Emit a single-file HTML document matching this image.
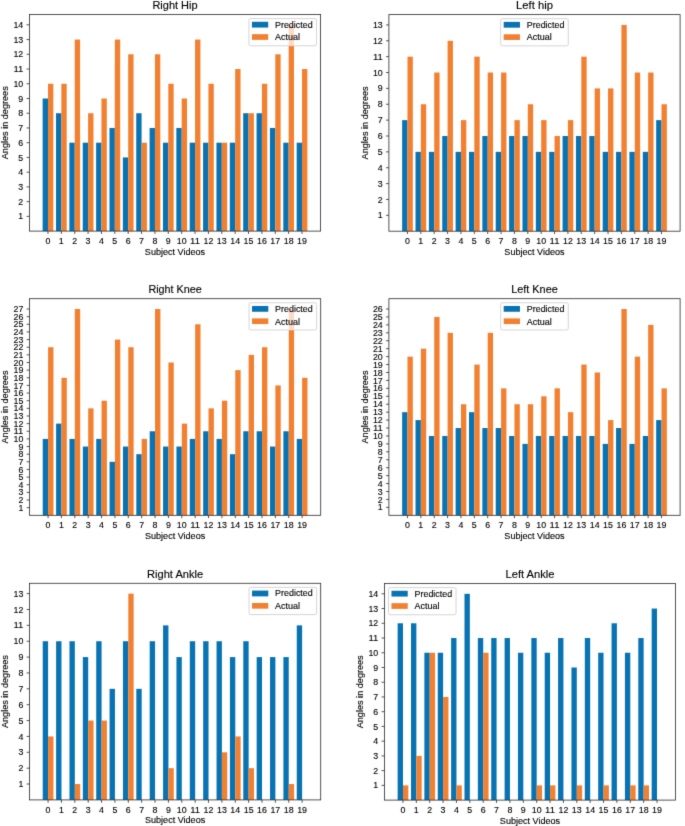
<!DOCTYPE html>
<html><head><meta charset="utf-8"><style>
html,body{margin:0;padding:0;background:#fff;width:685px;height:826px;overflow:hidden}
svg{display:block;}
text{font-family:"Liberation Sans",sans-serif;fill:#000;stroke:#000;stroke-width:0.12px}
</style></head><body>
<svg width="685" height="826" viewBox="0 0 685 826">
<defs><filter id="bl" x="0" y="0" width="1" height="1" color-interpolation-filters="sRGB"><feConvolveMatrix order="3" kernelMatrix="0.01134 0.08382 0.01134 0.08382 0.61935 0.08382 0.01134 0.08382 0.01134" edgeMode="duplicate" preserveAlpha="true"/></filter></defs><g filter="url(#bl)"><rect width="685" height="826" fill="#fff"/>
<rect x="42.64" y="98.49" width="5.35" height="132.61" fill="#0873b2"/>
<rect x="47.98" y="83.75" width="5.35" height="147.35" fill="#f28031"/>
<rect x="56.01" y="113.22" width="5.35" height="117.88" fill="#0873b2"/>
<rect x="61.35" y="83.75" width="5.35" height="147.35" fill="#f28031"/>
<rect x="69.38" y="142.69" width="5.35" height="88.41" fill="#0873b2"/>
<rect x="74.72" y="39.55" width="5.35" height="191.55" fill="#f28031"/>
<rect x="82.75" y="142.69" width="5.35" height="88.41" fill="#0873b2"/>
<rect x="88.09" y="113.22" width="5.35" height="117.88" fill="#f28031"/>
<rect x="96.12" y="142.69" width="5.35" height="88.41" fill="#0873b2"/>
<rect x="101.46" y="98.49" width="5.35" height="132.61" fill="#f28031"/>
<rect x="109.49" y="127.96" width="5.35" height="103.14" fill="#0873b2"/>
<rect x="114.83" y="39.55" width="5.35" height="191.55" fill="#f28031"/>
<rect x="122.86" y="157.43" width="5.35" height="73.67" fill="#0873b2"/>
<rect x="128.2" y="54.28" width="5.35" height="176.82" fill="#f28031"/>
<rect x="136.23" y="113.22" width="5.35" height="117.88" fill="#0873b2"/>
<rect x="141.57" y="142.69" width="5.35" height="88.41" fill="#f28031"/>
<rect x="149.6" y="127.96" width="5.35" height="103.14" fill="#0873b2"/>
<rect x="154.94" y="54.28" width="5.35" height="176.82" fill="#f28031"/>
<rect x="162.97" y="142.69" width="5.35" height="88.41" fill="#0873b2"/>
<rect x="168.31" y="83.75" width="5.35" height="147.35" fill="#f28031"/>
<rect x="176.34" y="127.96" width="5.35" height="103.14" fill="#0873b2"/>
<rect x="181.69" y="98.49" width="5.35" height="132.61" fill="#f28031"/>
<rect x="189.71" y="142.69" width="5.35" height="88.41" fill="#0873b2"/>
<rect x="195.06" y="39.55" width="5.35" height="191.55" fill="#f28031"/>
<rect x="203.08" y="142.69" width="5.35" height="88.41" fill="#0873b2"/>
<rect x="208.43" y="83.75" width="5.35" height="147.35" fill="#f28031"/>
<rect x="216.45" y="142.69" width="5.35" height="88.41" fill="#0873b2"/>
<rect x="221.8" y="142.69" width="5.35" height="88.41" fill="#f28031"/>
<rect x="229.82" y="142.69" width="5.35" height="88.41" fill="#0873b2"/>
<rect x="235.17" y="69.02" width="5.35" height="162.08" fill="#f28031"/>
<rect x="243.19" y="113.22" width="5.35" height="117.88" fill="#0873b2"/>
<rect x="248.54" y="113.22" width="5.35" height="117.88" fill="#f28031"/>
<rect x="256.56" y="113.22" width="5.35" height="117.88" fill="#0873b2"/>
<rect x="261.91" y="83.75" width="5.35" height="147.35" fill="#f28031"/>
<rect x="269.93" y="127.96" width="5.35" height="103.14" fill="#0873b2"/>
<rect x="275.28" y="54.28" width="5.35" height="176.82" fill="#f28031"/>
<rect x="283.3" y="142.69" width="5.35" height="88.41" fill="#0873b2"/>
<rect x="288.65" y="24.81" width="5.35" height="206.29" fill="#f28031"/>
<rect x="296.67" y="142.69" width="5.35" height="88.41" fill="#0873b2"/>
<rect x="302.02" y="69.02" width="5.35" height="162.08" fill="#f28031"/>
<path d="M47.98 231.1v2.85M61.35 231.1v2.85M74.72 231.1v2.85M88.09 231.1v2.85M101.46 231.1v2.85M114.83 231.1v2.85M128.2 231.1v2.85M141.57 231.1v2.85M154.94 231.1v2.85M168.31 231.1v2.85M181.69 231.1v2.85M195.06 231.1v2.85M208.43 231.1v2.85M221.8 231.1v2.85M235.17 231.1v2.85M248.54 231.1v2.85M261.91 231.1v2.85M275.28 231.1v2.85M288.65 231.1v2.85M302.02 231.1v2.85M29.4 216.37h-2.85M29.4 201.63h-2.85M29.4 186.9h-2.85M29.4 172.16h-2.85M29.4 157.43h-2.85M29.4 142.69h-2.85M29.4 127.96h-2.85M29.4 113.22h-2.85M29.4 98.49h-2.85M29.4 83.75h-2.85M29.4 69.02h-2.85M29.4 54.28h-2.85M29.4 39.55h-2.85M29.4 24.81h-2.85" stroke="#2a2a2a" stroke-width="0.8" fill="none"/>
<rect x="29.4" y="14.5" width="291.2" height="216.6" fill="none" stroke="#2a2a2a" stroke-width="0.8"/>
<text x="47.98" y="243.7" font-size="8.38" text-anchor="middle" textLength="4.92" lengthAdjust="spacingAndGlyphs">0</text>
<text x="61.35" y="243.7" font-size="8.38" text-anchor="middle" textLength="4.92" lengthAdjust="spacingAndGlyphs">1</text>
<text x="74.72" y="243.7" font-size="8.38" text-anchor="middle" textLength="4.92" lengthAdjust="spacingAndGlyphs">2</text>
<text x="88.09" y="243.7" font-size="8.38" text-anchor="middle" textLength="4.92" lengthAdjust="spacingAndGlyphs">3</text>
<text x="101.46" y="243.7" font-size="8.38" text-anchor="middle" textLength="4.92" lengthAdjust="spacingAndGlyphs">4</text>
<text x="114.83" y="243.7" font-size="8.38" text-anchor="middle" textLength="4.92" lengthAdjust="spacingAndGlyphs">5</text>
<text x="128.2" y="243.7" font-size="8.38" text-anchor="middle" textLength="4.92" lengthAdjust="spacingAndGlyphs">6</text>
<text x="141.57" y="243.7" font-size="8.38" text-anchor="middle" textLength="4.92" lengthAdjust="spacingAndGlyphs">7</text>
<text x="154.94" y="243.7" font-size="8.38" text-anchor="middle" textLength="4.92" lengthAdjust="spacingAndGlyphs">8</text>
<text x="168.31" y="243.7" font-size="8.38" text-anchor="middle" textLength="4.92" lengthAdjust="spacingAndGlyphs">9</text>
<text x="181.69" y="243.7" font-size="8.38" text-anchor="middle" textLength="9.84" lengthAdjust="spacingAndGlyphs">10</text>
<text x="195.06" y="243.7" font-size="8.38" text-anchor="middle" textLength="9.84" lengthAdjust="spacingAndGlyphs">11</text>
<text x="208.43" y="243.7" font-size="8.38" text-anchor="middle" textLength="9.84" lengthAdjust="spacingAndGlyphs">12</text>
<text x="221.8" y="243.7" font-size="8.38" text-anchor="middle" textLength="9.84" lengthAdjust="spacingAndGlyphs">13</text>
<text x="235.17" y="243.7" font-size="8.38" text-anchor="middle" textLength="9.84" lengthAdjust="spacingAndGlyphs">14</text>
<text x="248.54" y="243.7" font-size="8.38" text-anchor="middle" textLength="9.84" lengthAdjust="spacingAndGlyphs">15</text>
<text x="261.91" y="243.7" font-size="8.38" text-anchor="middle" textLength="9.84" lengthAdjust="spacingAndGlyphs">16</text>
<text x="275.28" y="243.7" font-size="8.38" text-anchor="middle" textLength="9.84" lengthAdjust="spacingAndGlyphs">17</text>
<text x="288.65" y="243.7" font-size="8.38" text-anchor="middle" textLength="9.84" lengthAdjust="spacingAndGlyphs">18</text>
<text x="302.02" y="243.7" font-size="8.38" text-anchor="middle" textLength="9.84" lengthAdjust="spacingAndGlyphs">19</text>
<text x="23.3" y="219.46" font-size="8.38" text-anchor="end" textLength="4.92" lengthAdjust="spacingAndGlyphs">1</text>
<text x="23.3" y="204.72" font-size="8.38" text-anchor="end" textLength="4.92" lengthAdjust="spacingAndGlyphs">2</text>
<text x="23.3" y="189.99" font-size="8.38" text-anchor="end" textLength="4.92" lengthAdjust="spacingAndGlyphs">3</text>
<text x="23.3" y="175.25" font-size="8.38" text-anchor="end" textLength="4.92" lengthAdjust="spacingAndGlyphs">4</text>
<text x="23.3" y="160.52" font-size="8.38" text-anchor="end" textLength="4.92" lengthAdjust="spacingAndGlyphs">5</text>
<text x="23.3" y="145.78" font-size="8.38" text-anchor="end" textLength="4.92" lengthAdjust="spacingAndGlyphs">6</text>
<text x="23.3" y="131.05" font-size="8.38" text-anchor="end" textLength="4.92" lengthAdjust="spacingAndGlyphs">7</text>
<text x="23.3" y="116.31" font-size="8.38" text-anchor="end" textLength="4.92" lengthAdjust="spacingAndGlyphs">8</text>
<text x="23.3" y="101.58" font-size="8.38" text-anchor="end" textLength="4.92" lengthAdjust="spacingAndGlyphs">9</text>
<text x="23.3" y="86.84" font-size="8.38" text-anchor="end" textLength="9.84" lengthAdjust="spacingAndGlyphs">10</text>
<text x="23.3" y="72.11" font-size="8.38" text-anchor="end" textLength="9.84" lengthAdjust="spacingAndGlyphs">11</text>
<text x="23.3" y="57.37" font-size="8.38" text-anchor="end" textLength="9.84" lengthAdjust="spacingAndGlyphs">12</text>
<text x="23.3" y="42.64" font-size="8.38" text-anchor="end" textLength="9.84" lengthAdjust="spacingAndGlyphs">13</text>
<text x="23.3" y="27.9" font-size="8.38" text-anchor="end" textLength="9.84" lengthAdjust="spacingAndGlyphs">14</text>
<text x="175" y="8.9" font-size="10.06" text-anchor="middle" textLength="45.1" lengthAdjust="spacingAndGlyphs">Right Hip</text>
<text x="175" y="254.6" font-size="8.38" text-anchor="middle" textLength="60.24" lengthAdjust="spacingAndGlyphs">Subject Videos</text>
<text x="8.1" y="122.8" font-size="8.38" text-anchor="middle" textLength="72.95" lengthAdjust="spacingAndGlyphs" transform="rotate(-90 8.1 122.8)">Angles in degrees</text>
<rect x="248.93" y="18.57" width="67.6" height="27.2" rx="1.6" fill="#fff" stroke="#ccc" stroke-width="0.8"/>
<rect x="288.65" y="24.81" width="5.35" height="20.56" fill="#fbdbc5"/>
<rect x="251.93" y="21.77" width="16.28" height="5.8" fill="#0873b2"/>
<rect x="251.93" y="34.17" width="16.28" height="5.7" fill="#f28031"/>
<text x="275.03" y="27.67" font-size="8.38" text-anchor="start" textLength="37.57" lengthAdjust="spacingAndGlyphs">Predicted</text>
<text x="275.03" y="40.37" font-size="8.38" text-anchor="start" textLength="25" lengthAdjust="spacingAndGlyphs">Actual</text>
<rect x="402.14" y="120.12" width="5.35" height="111.08" fill="#0873b2"/>
<rect x="407.48" y="56.65" width="5.35" height="174.55" fill="#f28031"/>
<rect x="415.51" y="151.86" width="5.35" height="79.34" fill="#0873b2"/>
<rect x="420.85" y="104.25" width="5.35" height="126.95" fill="#f28031"/>
<rect x="428.88" y="151.86" width="5.35" height="79.34" fill="#0873b2"/>
<rect x="434.22" y="72.52" width="5.35" height="158.68" fill="#f28031"/>
<rect x="442.25" y="135.99" width="5.35" height="95.21" fill="#0873b2"/>
<rect x="447.59" y="40.78" width="5.35" height="190.42" fill="#f28031"/>
<rect x="455.62" y="151.86" width="5.35" height="79.34" fill="#0873b2"/>
<rect x="460.96" y="120.12" width="5.35" height="111.08" fill="#f28031"/>
<rect x="468.99" y="151.86" width="5.35" height="79.34" fill="#0873b2"/>
<rect x="474.33" y="56.65" width="5.35" height="174.55" fill="#f28031"/>
<rect x="482.36" y="135.99" width="5.35" height="95.21" fill="#0873b2"/>
<rect x="487.7" y="72.52" width="5.35" height="158.68" fill="#f28031"/>
<rect x="495.73" y="151.86" width="5.35" height="79.34" fill="#0873b2"/>
<rect x="501.07" y="72.52" width="5.35" height="158.68" fill="#f28031"/>
<rect x="509.1" y="135.99" width="5.35" height="95.21" fill="#0873b2"/>
<rect x="514.44" y="120.12" width="5.35" height="111.08" fill="#f28031"/>
<rect x="522.47" y="135.99" width="5.35" height="95.21" fill="#0873b2"/>
<rect x="527.81" y="104.25" width="5.35" height="126.95" fill="#f28031"/>
<rect x="535.84" y="151.86" width="5.35" height="79.34" fill="#0873b2"/>
<rect x="541.19" y="120.12" width="5.35" height="111.08" fill="#f28031"/>
<rect x="549.21" y="151.86" width="5.35" height="79.34" fill="#0873b2"/>
<rect x="554.56" y="135.99" width="5.35" height="95.21" fill="#f28031"/>
<rect x="562.58" y="135.99" width="5.35" height="95.21" fill="#0873b2"/>
<rect x="567.93" y="120.12" width="5.35" height="111.08" fill="#f28031"/>
<rect x="575.95" y="135.99" width="5.35" height="95.21" fill="#0873b2"/>
<rect x="581.3" y="56.65" width="5.35" height="174.55" fill="#f28031"/>
<rect x="589.32" y="135.99" width="5.35" height="95.21" fill="#0873b2"/>
<rect x="594.67" y="88.39" width="5.35" height="142.81" fill="#f28031"/>
<rect x="602.69" y="151.86" width="5.35" height="79.34" fill="#0873b2"/>
<rect x="608.04" y="88.39" width="5.35" height="142.81" fill="#f28031"/>
<rect x="616.06" y="151.86" width="5.35" height="79.34" fill="#0873b2"/>
<rect x="621.41" y="24.91" width="5.35" height="206.29" fill="#f28031"/>
<rect x="629.43" y="151.86" width="5.35" height="79.34" fill="#0873b2"/>
<rect x="634.78" y="72.52" width="5.35" height="158.68" fill="#f28031"/>
<rect x="642.8" y="151.86" width="5.35" height="79.34" fill="#0873b2"/>
<rect x="648.15" y="72.52" width="5.35" height="158.68" fill="#f28031"/>
<rect x="656.17" y="120.12" width="5.35" height="111.08" fill="#0873b2"/>
<rect x="661.52" y="104.25" width="5.35" height="126.95" fill="#f28031"/>
<path d="M407.48 231.2v2.85M420.85 231.2v2.85M434.22 231.2v2.85M447.59 231.2v2.85M460.96 231.2v2.85M474.33 231.2v2.85M487.7 231.2v2.85M501.07 231.2v2.85M514.44 231.2v2.85M527.81 231.2v2.85M541.19 231.2v2.85M554.56 231.2v2.85M567.93 231.2v2.85M581.3 231.2v2.85M594.67 231.2v2.85M608.04 231.2v2.85M621.41 231.2v2.85M634.78 231.2v2.85M648.15 231.2v2.85M661.52 231.2v2.85M388.9 215.33h-2.85M388.9 199.46h-2.85M388.9 183.6h-2.85M388.9 167.73h-2.85M388.9 151.86h-2.85M388.9 135.99h-2.85M388.9 120.12h-2.85M388.9 104.25h-2.85M388.9 88.39h-2.85M388.9 72.52h-2.85M388.9 56.65h-2.85M388.9 40.78h-2.85M388.9 24.91h-2.85" stroke="#2a2a2a" stroke-width="0.8" fill="none"/>
<rect x="388.9" y="14.6" width="291.2" height="216.6" fill="none" stroke="#2a2a2a" stroke-width="0.8"/>
<text x="407.48" y="243.8" font-size="8.38" text-anchor="middle" textLength="4.92" lengthAdjust="spacingAndGlyphs">0</text>
<text x="420.85" y="243.8" font-size="8.38" text-anchor="middle" textLength="4.92" lengthAdjust="spacingAndGlyphs">1</text>
<text x="434.22" y="243.8" font-size="8.38" text-anchor="middle" textLength="4.92" lengthAdjust="spacingAndGlyphs">2</text>
<text x="447.59" y="243.8" font-size="8.38" text-anchor="middle" textLength="4.92" lengthAdjust="spacingAndGlyphs">3</text>
<text x="460.96" y="243.8" font-size="8.38" text-anchor="middle" textLength="4.92" lengthAdjust="spacingAndGlyphs">4</text>
<text x="474.33" y="243.8" font-size="8.38" text-anchor="middle" textLength="4.92" lengthAdjust="spacingAndGlyphs">5</text>
<text x="487.7" y="243.8" font-size="8.38" text-anchor="middle" textLength="4.92" lengthAdjust="spacingAndGlyphs">6</text>
<text x="501.07" y="243.8" font-size="8.38" text-anchor="middle" textLength="4.92" lengthAdjust="spacingAndGlyphs">7</text>
<text x="514.44" y="243.8" font-size="8.38" text-anchor="middle" textLength="4.92" lengthAdjust="spacingAndGlyphs">8</text>
<text x="527.81" y="243.8" font-size="8.38" text-anchor="middle" textLength="4.92" lengthAdjust="spacingAndGlyphs">9</text>
<text x="541.19" y="243.8" font-size="8.38" text-anchor="middle" textLength="9.84" lengthAdjust="spacingAndGlyphs">10</text>
<text x="554.56" y="243.8" font-size="8.38" text-anchor="middle" textLength="9.84" lengthAdjust="spacingAndGlyphs">11</text>
<text x="567.93" y="243.8" font-size="8.38" text-anchor="middle" textLength="9.84" lengthAdjust="spacingAndGlyphs">12</text>
<text x="581.3" y="243.8" font-size="8.38" text-anchor="middle" textLength="9.84" lengthAdjust="spacingAndGlyphs">13</text>
<text x="594.67" y="243.8" font-size="8.38" text-anchor="middle" textLength="9.84" lengthAdjust="spacingAndGlyphs">14</text>
<text x="608.04" y="243.8" font-size="8.38" text-anchor="middle" textLength="9.84" lengthAdjust="spacingAndGlyphs">15</text>
<text x="621.41" y="243.8" font-size="8.38" text-anchor="middle" textLength="9.84" lengthAdjust="spacingAndGlyphs">16</text>
<text x="634.78" y="243.8" font-size="8.38" text-anchor="middle" textLength="9.84" lengthAdjust="spacingAndGlyphs">17</text>
<text x="648.15" y="243.8" font-size="8.38" text-anchor="middle" textLength="9.84" lengthAdjust="spacingAndGlyphs">18</text>
<text x="661.52" y="243.8" font-size="8.38" text-anchor="middle" textLength="9.84" lengthAdjust="spacingAndGlyphs">19</text>
<text x="382.8" y="218.42" font-size="8.38" text-anchor="end" textLength="4.92" lengthAdjust="spacingAndGlyphs">1</text>
<text x="382.8" y="202.55" font-size="8.38" text-anchor="end" textLength="4.92" lengthAdjust="spacingAndGlyphs">2</text>
<text x="382.8" y="186.69" font-size="8.38" text-anchor="end" textLength="4.92" lengthAdjust="spacingAndGlyphs">3</text>
<text x="382.8" y="170.82" font-size="8.38" text-anchor="end" textLength="4.92" lengthAdjust="spacingAndGlyphs">4</text>
<text x="382.8" y="154.95" font-size="8.38" text-anchor="end" textLength="4.92" lengthAdjust="spacingAndGlyphs">5</text>
<text x="382.8" y="139.08" font-size="8.38" text-anchor="end" textLength="4.92" lengthAdjust="spacingAndGlyphs">6</text>
<text x="382.8" y="123.21" font-size="8.38" text-anchor="end" textLength="4.92" lengthAdjust="spacingAndGlyphs">7</text>
<text x="382.8" y="107.34" font-size="8.38" text-anchor="end" textLength="4.92" lengthAdjust="spacingAndGlyphs">8</text>
<text x="382.8" y="91.48" font-size="8.38" text-anchor="end" textLength="4.92" lengthAdjust="spacingAndGlyphs">9</text>
<text x="382.8" y="75.61" font-size="8.38" text-anchor="end" textLength="9.84" lengthAdjust="spacingAndGlyphs">10</text>
<text x="382.8" y="59.74" font-size="8.38" text-anchor="end" textLength="9.84" lengthAdjust="spacingAndGlyphs">11</text>
<text x="382.8" y="43.87" font-size="8.38" text-anchor="end" textLength="9.84" lengthAdjust="spacingAndGlyphs">12</text>
<text x="382.8" y="28" font-size="8.38" text-anchor="end" textLength="9.84" lengthAdjust="spacingAndGlyphs">13</text>
<text x="534.5" y="9" font-size="10.06" text-anchor="middle" textLength="36.94" lengthAdjust="spacingAndGlyphs">Left hip</text>
<text x="534.5" y="254.7" font-size="8.38" text-anchor="middle" textLength="60.24" lengthAdjust="spacingAndGlyphs">Subject Videos</text>
<text x="367.6" y="122.9" font-size="8.38" text-anchor="middle" textLength="72.95" lengthAdjust="spacingAndGlyphs" transform="rotate(-90 367.6 122.9)">Angles in degrees</text>
<rect x="500.7" y="18.67" width="67.6" height="27.2" rx="1.6" fill="#fff" stroke="#ccc" stroke-width="0.8"/>
<rect x="503.7" y="21.87" width="16.28" height="5.8" fill="#0873b2"/>
<rect x="503.7" y="34.27" width="16.28" height="5.7" fill="#f28031"/>
<text x="526.8" y="27.77" font-size="8.38" text-anchor="start" textLength="37.57" lengthAdjust="spacingAndGlyphs">Predicted</text>
<text x="526.8" y="40.47" font-size="8.38" text-anchor="start" textLength="25" lengthAdjust="spacingAndGlyphs">Actual</text>
<rect x="42.74" y="438.9" width="5.35" height="76.4" fill="#0873b2"/>
<rect x="48.08" y="347.22" width="5.35" height="168.08" fill="#f28031"/>
<rect x="56.11" y="423.62" width="5.35" height="91.68" fill="#0873b2"/>
<rect x="61.45" y="377.78" width="5.35" height="137.52" fill="#f28031"/>
<rect x="69.48" y="438.9" width="5.35" height="76.4" fill="#0873b2"/>
<rect x="74.82" y="309.01" width="5.35" height="206.29" fill="#f28031"/>
<rect x="82.85" y="446.54" width="5.35" height="68.76" fill="#0873b2"/>
<rect x="88.19" y="408.34" width="5.35" height="106.96" fill="#f28031"/>
<rect x="96.22" y="438.9" width="5.35" height="76.4" fill="#0873b2"/>
<rect x="101.56" y="400.7" width="5.35" height="114.6" fill="#f28031"/>
<rect x="109.59" y="461.82" width="5.35" height="53.48" fill="#0873b2"/>
<rect x="114.93" y="339.58" width="5.35" height="175.72" fill="#f28031"/>
<rect x="122.96" y="446.54" width="5.35" height="68.76" fill="#0873b2"/>
<rect x="128.3" y="347.22" width="5.35" height="168.08" fill="#f28031"/>
<rect x="136.33" y="454.18" width="5.35" height="61.12" fill="#0873b2"/>
<rect x="141.67" y="438.9" width="5.35" height="76.4" fill="#f28031"/>
<rect x="149.7" y="431.26" width="5.35" height="84.04" fill="#0873b2"/>
<rect x="155.04" y="309.01" width="5.35" height="206.29" fill="#f28031"/>
<rect x="163.07" y="446.54" width="5.35" height="68.76" fill="#0873b2"/>
<rect x="168.41" y="362.5" width="5.35" height="152.8" fill="#f28031"/>
<rect x="176.44" y="446.54" width="5.35" height="68.76" fill="#0873b2"/>
<rect x="181.79" y="423.62" width="5.35" height="91.68" fill="#f28031"/>
<rect x="189.81" y="438.9" width="5.35" height="76.4" fill="#0873b2"/>
<rect x="195.16" y="324.29" width="5.35" height="191.01" fill="#f28031"/>
<rect x="203.18" y="431.26" width="5.35" height="84.04" fill="#0873b2"/>
<rect x="208.53" y="408.34" width="5.35" height="106.96" fill="#f28031"/>
<rect x="216.55" y="438.9" width="5.35" height="76.4" fill="#0873b2"/>
<rect x="221.9" y="400.7" width="5.35" height="114.6" fill="#f28031"/>
<rect x="229.92" y="454.18" width="5.35" height="61.12" fill="#0873b2"/>
<rect x="235.27" y="370.14" width="5.35" height="145.16" fill="#f28031"/>
<rect x="243.29" y="431.26" width="5.35" height="84.04" fill="#0873b2"/>
<rect x="248.64" y="354.86" width="5.35" height="160.44" fill="#f28031"/>
<rect x="256.66" y="431.26" width="5.35" height="84.04" fill="#0873b2"/>
<rect x="262.01" y="347.22" width="5.35" height="168.08" fill="#f28031"/>
<rect x="270.03" y="446.54" width="5.35" height="68.76" fill="#0873b2"/>
<rect x="275.38" y="385.42" width="5.35" height="129.88" fill="#f28031"/>
<rect x="283.4" y="431.26" width="5.35" height="84.04" fill="#0873b2"/>
<rect x="288.75" y="309.01" width="5.35" height="206.29" fill="#f28031"/>
<rect x="296.77" y="438.9" width="5.35" height="76.4" fill="#0873b2"/>
<rect x="302.12" y="377.78" width="5.35" height="137.52" fill="#f28031"/>
<path d="M48.08 515.3v2.85M61.45 515.3v2.85M74.82 515.3v2.85M88.19 515.3v2.85M101.56 515.3v2.85M114.93 515.3v2.85M128.3 515.3v2.85M141.67 515.3v2.85M155.04 515.3v2.85M168.41 515.3v2.85M181.79 515.3v2.85M195.16 515.3v2.85M208.53 515.3v2.85M221.9 515.3v2.85M235.27 515.3v2.85M248.64 515.3v2.85M262.01 515.3v2.85M275.38 515.3v2.85M288.75 515.3v2.85M302.12 515.3v2.85M29.5 507.66h-2.85M29.5 500.02h-2.85M29.5 492.38h-2.85M29.5 484.74h-2.85M29.5 477.1h-2.85M29.5 469.46h-2.85M29.5 461.82h-2.85M29.5 454.18h-2.85M29.5 446.54h-2.85M29.5 438.9h-2.85M29.5 431.26h-2.85M29.5 423.62h-2.85M29.5 415.98h-2.85M29.5 408.34h-2.85M29.5 400.7h-2.85M29.5 393.06h-2.85M29.5 385.42h-2.85M29.5 377.78h-2.85M29.5 370.14h-2.85M29.5 362.5h-2.85M29.5 354.86h-2.85M29.5 347.22h-2.85M29.5 339.58h-2.85M29.5 331.93h-2.85M29.5 324.29h-2.85M29.5 316.65h-2.85M29.5 309.01h-2.85" stroke="#2a2a2a" stroke-width="0.8" fill="none"/>
<rect x="29.5" y="298.7" width="291.2" height="216.6" fill="none" stroke="#2a2a2a" stroke-width="0.8"/>
<text x="48.08" y="527.9" font-size="8.38" text-anchor="middle" textLength="4.92" lengthAdjust="spacingAndGlyphs">0</text>
<text x="61.45" y="527.9" font-size="8.38" text-anchor="middle" textLength="4.92" lengthAdjust="spacingAndGlyphs">1</text>
<text x="74.82" y="527.9" font-size="8.38" text-anchor="middle" textLength="4.92" lengthAdjust="spacingAndGlyphs">2</text>
<text x="88.19" y="527.9" font-size="8.38" text-anchor="middle" textLength="4.92" lengthAdjust="spacingAndGlyphs">3</text>
<text x="101.56" y="527.9" font-size="8.38" text-anchor="middle" textLength="4.92" lengthAdjust="spacingAndGlyphs">4</text>
<text x="114.93" y="527.9" font-size="8.38" text-anchor="middle" textLength="4.92" lengthAdjust="spacingAndGlyphs">5</text>
<text x="128.3" y="527.9" font-size="8.38" text-anchor="middle" textLength="4.92" lengthAdjust="spacingAndGlyphs">6</text>
<text x="141.67" y="527.9" font-size="8.38" text-anchor="middle" textLength="4.92" lengthAdjust="spacingAndGlyphs">7</text>
<text x="155.04" y="527.9" font-size="8.38" text-anchor="middle" textLength="4.92" lengthAdjust="spacingAndGlyphs">8</text>
<text x="168.41" y="527.9" font-size="8.38" text-anchor="middle" textLength="4.92" lengthAdjust="spacingAndGlyphs">9</text>
<text x="181.79" y="527.9" font-size="8.38" text-anchor="middle" textLength="9.84" lengthAdjust="spacingAndGlyphs">10</text>
<text x="195.16" y="527.9" font-size="8.38" text-anchor="middle" textLength="9.84" lengthAdjust="spacingAndGlyphs">11</text>
<text x="208.53" y="527.9" font-size="8.38" text-anchor="middle" textLength="9.84" lengthAdjust="spacingAndGlyphs">12</text>
<text x="221.9" y="527.9" font-size="8.38" text-anchor="middle" textLength="9.84" lengthAdjust="spacingAndGlyphs">13</text>
<text x="235.27" y="527.9" font-size="8.38" text-anchor="middle" textLength="9.84" lengthAdjust="spacingAndGlyphs">14</text>
<text x="248.64" y="527.9" font-size="8.38" text-anchor="middle" textLength="9.84" lengthAdjust="spacingAndGlyphs">15</text>
<text x="262.01" y="527.9" font-size="8.38" text-anchor="middle" textLength="9.84" lengthAdjust="spacingAndGlyphs">16</text>
<text x="275.38" y="527.9" font-size="8.38" text-anchor="middle" textLength="9.84" lengthAdjust="spacingAndGlyphs">17</text>
<text x="288.75" y="527.9" font-size="8.38" text-anchor="middle" textLength="9.84" lengthAdjust="spacingAndGlyphs">18</text>
<text x="302.12" y="527.9" font-size="8.38" text-anchor="middle" textLength="9.84" lengthAdjust="spacingAndGlyphs">19</text>
<text x="23.4" y="510.75" font-size="8.38" text-anchor="end" textLength="4.92" lengthAdjust="spacingAndGlyphs">1</text>
<text x="23.4" y="503.11" font-size="8.38" text-anchor="end" textLength="4.92" lengthAdjust="spacingAndGlyphs">2</text>
<text x="23.4" y="495.47" font-size="8.38" text-anchor="end" textLength="4.92" lengthAdjust="spacingAndGlyphs">3</text>
<text x="23.4" y="487.83" font-size="8.38" text-anchor="end" textLength="4.92" lengthAdjust="spacingAndGlyphs">4</text>
<text x="23.4" y="480.19" font-size="8.38" text-anchor="end" textLength="4.92" lengthAdjust="spacingAndGlyphs">5</text>
<text x="23.4" y="472.55" font-size="8.38" text-anchor="end" textLength="4.92" lengthAdjust="spacingAndGlyphs">6</text>
<text x="23.4" y="464.91" font-size="8.38" text-anchor="end" textLength="4.92" lengthAdjust="spacingAndGlyphs">7</text>
<text x="23.4" y="457.27" font-size="8.38" text-anchor="end" textLength="4.92" lengthAdjust="spacingAndGlyphs">8</text>
<text x="23.4" y="449.63" font-size="8.38" text-anchor="end" textLength="4.92" lengthAdjust="spacingAndGlyphs">9</text>
<text x="23.4" y="441.99" font-size="8.38" text-anchor="end" textLength="9.84" lengthAdjust="spacingAndGlyphs">10</text>
<text x="23.4" y="434.35" font-size="8.38" text-anchor="end" textLength="9.84" lengthAdjust="spacingAndGlyphs">11</text>
<text x="23.4" y="426.71" font-size="8.38" text-anchor="end" textLength="9.84" lengthAdjust="spacingAndGlyphs">12</text>
<text x="23.4" y="419.07" font-size="8.38" text-anchor="end" textLength="9.84" lengthAdjust="spacingAndGlyphs">13</text>
<text x="23.4" y="411.43" font-size="8.38" text-anchor="end" textLength="9.84" lengthAdjust="spacingAndGlyphs">14</text>
<text x="23.4" y="403.79" font-size="8.38" text-anchor="end" textLength="9.84" lengthAdjust="spacingAndGlyphs">15</text>
<text x="23.4" y="396.15" font-size="8.38" text-anchor="end" textLength="9.84" lengthAdjust="spacingAndGlyphs">16</text>
<text x="23.4" y="388.51" font-size="8.38" text-anchor="end" textLength="9.84" lengthAdjust="spacingAndGlyphs">17</text>
<text x="23.4" y="380.87" font-size="8.38" text-anchor="end" textLength="9.84" lengthAdjust="spacingAndGlyphs">18</text>
<text x="23.4" y="373.23" font-size="8.38" text-anchor="end" textLength="9.84" lengthAdjust="spacingAndGlyphs">19</text>
<text x="23.4" y="365.59" font-size="8.38" text-anchor="end" textLength="9.84" lengthAdjust="spacingAndGlyphs">20</text>
<text x="23.4" y="357.95" font-size="8.38" text-anchor="end" textLength="9.84" lengthAdjust="spacingAndGlyphs">21</text>
<text x="23.4" y="350.31" font-size="8.38" text-anchor="end" textLength="9.84" lengthAdjust="spacingAndGlyphs">22</text>
<text x="23.4" y="342.67" font-size="8.38" text-anchor="end" textLength="9.84" lengthAdjust="spacingAndGlyphs">23</text>
<text x="23.4" y="335.02" font-size="8.38" text-anchor="end" textLength="9.84" lengthAdjust="spacingAndGlyphs">24</text>
<text x="23.4" y="327.38" font-size="8.38" text-anchor="end" textLength="9.84" lengthAdjust="spacingAndGlyphs">25</text>
<text x="23.4" y="319.74" font-size="8.38" text-anchor="end" textLength="9.84" lengthAdjust="spacingAndGlyphs">26</text>
<text x="23.4" y="312.1" font-size="8.38" text-anchor="end" textLength="9.84" lengthAdjust="spacingAndGlyphs">27</text>
<text x="175.1" y="293.1" font-size="10.06" text-anchor="middle" textLength="53.45" lengthAdjust="spacingAndGlyphs">Right Knee</text>
<text x="175.1" y="538.8" font-size="8.38" text-anchor="middle" textLength="60.24" lengthAdjust="spacingAndGlyphs">Subject Videos</text>
<text x="8.2" y="407" font-size="8.38" text-anchor="middle" textLength="72.95" lengthAdjust="spacingAndGlyphs" transform="rotate(-90 8.2 407)">Angles in degrees</text>
<rect x="249.03" y="302.77" width="67.6" height="27.2" rx="1.6" fill="#fff" stroke="#ccc" stroke-width="0.8"/>
<rect x="288.75" y="309.01" width="5.35" height="20.56" fill="#fbdbc5"/>
<rect x="252.03" y="305.97" width="16.28" height="5.8" fill="#0873b2"/>
<rect x="252.03" y="318.37" width="16.28" height="5.7" fill="#f28031"/>
<text x="275.13" y="311.87" font-size="8.38" text-anchor="start" textLength="37.57" lengthAdjust="spacingAndGlyphs">Predicted</text>
<text x="275.13" y="324.57" font-size="8.38" text-anchor="start" textLength="25" lengthAdjust="spacingAndGlyphs">Actual</text>
<rect x="402.14" y="412.16" width="5.35" height="103.14" fill="#0873b2"/>
<rect x="407.48" y="356.62" width="5.35" height="158.68" fill="#f28031"/>
<rect x="415.51" y="420.09" width="5.35" height="95.21" fill="#0873b2"/>
<rect x="420.85" y="348.68" width="5.35" height="166.62" fill="#f28031"/>
<rect x="428.88" y="435.96" width="5.35" height="79.34" fill="#0873b2"/>
<rect x="434.22" y="316.95" width="5.35" height="198.35" fill="#f28031"/>
<rect x="442.25" y="435.96" width="5.35" height="79.34" fill="#0873b2"/>
<rect x="447.59" y="332.82" width="5.35" height="182.48" fill="#f28031"/>
<rect x="455.62" y="428.03" width="5.35" height="87.27" fill="#0873b2"/>
<rect x="460.96" y="404.22" width="5.35" height="111.08" fill="#f28031"/>
<rect x="468.99" y="412.16" width="5.35" height="103.14" fill="#0873b2"/>
<rect x="474.33" y="364.55" width="5.35" height="150.75" fill="#f28031"/>
<rect x="482.36" y="428.03" width="5.35" height="87.27" fill="#0873b2"/>
<rect x="487.7" y="332.82" width="5.35" height="182.48" fill="#f28031"/>
<rect x="495.73" y="428.03" width="5.35" height="87.27" fill="#0873b2"/>
<rect x="501.07" y="388.35" width="5.35" height="126.95" fill="#f28031"/>
<rect x="509.1" y="435.96" width="5.35" height="79.34" fill="#0873b2"/>
<rect x="514.44" y="404.22" width="5.35" height="111.08" fill="#f28031"/>
<rect x="522.47" y="443.89" width="5.35" height="71.41" fill="#0873b2"/>
<rect x="527.81" y="404.22" width="5.35" height="111.08" fill="#f28031"/>
<rect x="535.84" y="435.96" width="5.35" height="79.34" fill="#0873b2"/>
<rect x="541.19" y="396.29" width="5.35" height="119.01" fill="#f28031"/>
<rect x="549.21" y="435.96" width="5.35" height="79.34" fill="#0873b2"/>
<rect x="554.56" y="388.35" width="5.35" height="126.95" fill="#f28031"/>
<rect x="562.58" y="435.96" width="5.35" height="79.34" fill="#0873b2"/>
<rect x="567.93" y="412.16" width="5.35" height="103.14" fill="#f28031"/>
<rect x="575.95" y="435.96" width="5.35" height="79.34" fill="#0873b2"/>
<rect x="581.3" y="364.55" width="5.35" height="150.75" fill="#f28031"/>
<rect x="589.32" y="435.96" width="5.35" height="79.34" fill="#0873b2"/>
<rect x="594.67" y="372.49" width="5.35" height="142.81" fill="#f28031"/>
<rect x="602.69" y="443.89" width="5.35" height="71.41" fill="#0873b2"/>
<rect x="608.04" y="420.09" width="5.35" height="95.21" fill="#f28031"/>
<rect x="616.06" y="428.03" width="5.35" height="87.27" fill="#0873b2"/>
<rect x="621.41" y="309.01" width="5.35" height="206.29" fill="#f28031"/>
<rect x="629.43" y="443.89" width="5.35" height="71.41" fill="#0873b2"/>
<rect x="634.78" y="356.62" width="5.35" height="158.68" fill="#f28031"/>
<rect x="642.8" y="435.96" width="5.35" height="79.34" fill="#0873b2"/>
<rect x="648.15" y="324.88" width="5.35" height="190.42" fill="#f28031"/>
<rect x="656.17" y="420.09" width="5.35" height="95.21" fill="#0873b2"/>
<rect x="661.52" y="388.35" width="5.35" height="126.95" fill="#f28031"/>
<path d="M407.48 515.3v2.85M420.85 515.3v2.85M434.22 515.3v2.85M447.59 515.3v2.85M460.96 515.3v2.85M474.33 515.3v2.85M487.7 515.3v2.85M501.07 515.3v2.85M514.44 515.3v2.85M527.81 515.3v2.85M541.19 515.3v2.85M554.56 515.3v2.85M567.93 515.3v2.85M581.3 515.3v2.85M594.67 515.3v2.85M608.04 515.3v2.85M621.41 515.3v2.85M634.78 515.3v2.85M648.15 515.3v2.85M661.52 515.3v2.85M388.9 507.37h-2.85M388.9 499.43h-2.85M388.9 491.5h-2.85M388.9 483.56h-2.85M388.9 475.63h-2.85M388.9 467.7h-2.85M388.9 459.76h-2.85M388.9 451.83h-2.85M388.9 443.89h-2.85M388.9 435.96h-2.85M388.9 428.03h-2.85M388.9 420.09h-2.85M388.9 412.16h-2.85M388.9 404.22h-2.85M388.9 396.29h-2.85M388.9 388.35h-2.85M388.9 380.42h-2.85M388.9 372.49h-2.85M388.9 364.55h-2.85M388.9 356.62h-2.85M388.9 348.68h-2.85M388.9 340.75h-2.85M388.9 332.82h-2.85M388.9 324.88h-2.85M388.9 316.95h-2.85M388.9 309.01h-2.85" stroke="#2a2a2a" stroke-width="0.8" fill="none"/>
<rect x="388.9" y="298.7" width="291.2" height="216.6" fill="none" stroke="#2a2a2a" stroke-width="0.8"/>
<text x="407.48" y="527.9" font-size="8.38" text-anchor="middle" textLength="4.92" lengthAdjust="spacingAndGlyphs">0</text>
<text x="420.85" y="527.9" font-size="8.38" text-anchor="middle" textLength="4.92" lengthAdjust="spacingAndGlyphs">1</text>
<text x="434.22" y="527.9" font-size="8.38" text-anchor="middle" textLength="4.92" lengthAdjust="spacingAndGlyphs">2</text>
<text x="447.59" y="527.9" font-size="8.38" text-anchor="middle" textLength="4.92" lengthAdjust="spacingAndGlyphs">3</text>
<text x="460.96" y="527.9" font-size="8.38" text-anchor="middle" textLength="4.92" lengthAdjust="spacingAndGlyphs">4</text>
<text x="474.33" y="527.9" font-size="8.38" text-anchor="middle" textLength="4.92" lengthAdjust="spacingAndGlyphs">5</text>
<text x="487.7" y="527.9" font-size="8.38" text-anchor="middle" textLength="4.92" lengthAdjust="spacingAndGlyphs">6</text>
<text x="501.07" y="527.9" font-size="8.38" text-anchor="middle" textLength="4.92" lengthAdjust="spacingAndGlyphs">7</text>
<text x="514.44" y="527.9" font-size="8.38" text-anchor="middle" textLength="4.92" lengthAdjust="spacingAndGlyphs">8</text>
<text x="527.81" y="527.9" font-size="8.38" text-anchor="middle" textLength="4.92" lengthAdjust="spacingAndGlyphs">9</text>
<text x="541.19" y="527.9" font-size="8.38" text-anchor="middle" textLength="9.84" lengthAdjust="spacingAndGlyphs">10</text>
<text x="554.56" y="527.9" font-size="8.38" text-anchor="middle" textLength="9.84" lengthAdjust="spacingAndGlyphs">11</text>
<text x="567.93" y="527.9" font-size="8.38" text-anchor="middle" textLength="9.84" lengthAdjust="spacingAndGlyphs">12</text>
<text x="581.3" y="527.9" font-size="8.38" text-anchor="middle" textLength="9.84" lengthAdjust="spacingAndGlyphs">13</text>
<text x="594.67" y="527.9" font-size="8.38" text-anchor="middle" textLength="9.84" lengthAdjust="spacingAndGlyphs">14</text>
<text x="608.04" y="527.9" font-size="8.38" text-anchor="middle" textLength="9.84" lengthAdjust="spacingAndGlyphs">15</text>
<text x="621.41" y="527.9" font-size="8.38" text-anchor="middle" textLength="9.84" lengthAdjust="spacingAndGlyphs">16</text>
<text x="634.78" y="527.9" font-size="8.38" text-anchor="middle" textLength="9.84" lengthAdjust="spacingAndGlyphs">17</text>
<text x="648.15" y="527.9" font-size="8.38" text-anchor="middle" textLength="9.84" lengthAdjust="spacingAndGlyphs">18</text>
<text x="661.52" y="527.9" font-size="8.38" text-anchor="middle" textLength="9.84" lengthAdjust="spacingAndGlyphs">19</text>
<text x="382.8" y="510.46" font-size="8.38" text-anchor="end" textLength="4.92" lengthAdjust="spacingAndGlyphs">1</text>
<text x="382.8" y="502.52" font-size="8.38" text-anchor="end" textLength="4.92" lengthAdjust="spacingAndGlyphs">2</text>
<text x="382.8" y="494.59" font-size="8.38" text-anchor="end" textLength="4.92" lengthAdjust="spacingAndGlyphs">3</text>
<text x="382.8" y="486.65" font-size="8.38" text-anchor="end" textLength="4.92" lengthAdjust="spacingAndGlyphs">4</text>
<text x="382.8" y="478.72" font-size="8.38" text-anchor="end" textLength="4.92" lengthAdjust="spacingAndGlyphs">5</text>
<text x="382.8" y="470.79" font-size="8.38" text-anchor="end" textLength="4.92" lengthAdjust="spacingAndGlyphs">6</text>
<text x="382.8" y="462.85" font-size="8.38" text-anchor="end" textLength="4.92" lengthAdjust="spacingAndGlyphs">7</text>
<text x="382.8" y="454.92" font-size="8.38" text-anchor="end" textLength="4.92" lengthAdjust="spacingAndGlyphs">8</text>
<text x="382.8" y="446.98" font-size="8.38" text-anchor="end" textLength="4.92" lengthAdjust="spacingAndGlyphs">9</text>
<text x="382.8" y="439.05" font-size="8.38" text-anchor="end" textLength="9.84" lengthAdjust="spacingAndGlyphs">10</text>
<text x="382.8" y="431.12" font-size="8.38" text-anchor="end" textLength="9.84" lengthAdjust="spacingAndGlyphs">11</text>
<text x="382.8" y="423.18" font-size="8.38" text-anchor="end" textLength="9.84" lengthAdjust="spacingAndGlyphs">12</text>
<text x="382.8" y="415.25" font-size="8.38" text-anchor="end" textLength="9.84" lengthAdjust="spacingAndGlyphs">13</text>
<text x="382.8" y="407.31" font-size="8.38" text-anchor="end" textLength="9.84" lengthAdjust="spacingAndGlyphs">14</text>
<text x="382.8" y="399.38" font-size="8.38" text-anchor="end" textLength="9.84" lengthAdjust="spacingAndGlyphs">15</text>
<text x="382.8" y="391.44" font-size="8.38" text-anchor="end" textLength="9.84" lengthAdjust="spacingAndGlyphs">16</text>
<text x="382.8" y="383.51" font-size="8.38" text-anchor="end" textLength="9.84" lengthAdjust="spacingAndGlyphs">17</text>
<text x="382.8" y="375.58" font-size="8.38" text-anchor="end" textLength="9.84" lengthAdjust="spacingAndGlyphs">18</text>
<text x="382.8" y="367.64" font-size="8.38" text-anchor="end" textLength="9.84" lengthAdjust="spacingAndGlyphs">19</text>
<text x="382.8" y="359.71" font-size="8.38" text-anchor="end" textLength="9.84" lengthAdjust="spacingAndGlyphs">20</text>
<text x="382.8" y="351.77" font-size="8.38" text-anchor="end" textLength="9.84" lengthAdjust="spacingAndGlyphs">21</text>
<text x="382.8" y="343.84" font-size="8.38" text-anchor="end" textLength="9.84" lengthAdjust="spacingAndGlyphs">22</text>
<text x="382.8" y="335.91" font-size="8.38" text-anchor="end" textLength="9.84" lengthAdjust="spacingAndGlyphs">23</text>
<text x="382.8" y="327.97" font-size="8.38" text-anchor="end" textLength="9.84" lengthAdjust="spacingAndGlyphs">24</text>
<text x="382.8" y="320.04" font-size="8.38" text-anchor="end" textLength="9.84" lengthAdjust="spacingAndGlyphs">25</text>
<text x="382.8" y="312.1" font-size="8.38" text-anchor="end" textLength="9.84" lengthAdjust="spacingAndGlyphs">26</text>
<text x="534.5" y="293.1" font-size="10.06" text-anchor="middle" textLength="46.45" lengthAdjust="spacingAndGlyphs">Left Knee</text>
<text x="534.5" y="538.8" font-size="8.38" text-anchor="middle" textLength="60.24" lengthAdjust="spacingAndGlyphs">Subject Videos</text>
<text x="367.6" y="407" font-size="8.38" text-anchor="middle" textLength="72.95" lengthAdjust="spacingAndGlyphs" transform="rotate(-90 367.6 407)">Angles in degrees</text>
<rect x="500.7" y="302.77" width="67.6" height="27.2" rx="1.6" fill="#fff" stroke="#ccc" stroke-width="0.8"/>
<rect x="503.7" y="305.97" width="16.28" height="5.8" fill="#0873b2"/>
<rect x="503.7" y="318.37" width="16.28" height="5.7" fill="#f28031"/>
<text x="526.8" y="311.87" font-size="8.38" text-anchor="start" textLength="37.57" lengthAdjust="spacingAndGlyphs">Predicted</text>
<text x="526.8" y="324.57" font-size="8.38" text-anchor="start" textLength="25" lengthAdjust="spacingAndGlyphs">Actual</text>
<rect x="42.74" y="641.22" width="5.35" height="158.68" fill="#0873b2"/>
<rect x="48.08" y="736.43" width="5.35" height="63.47" fill="#f28031"/>
<rect x="56.11" y="641.22" width="5.35" height="158.68" fill="#0873b2"/>
<rect x="69.48" y="641.22" width="5.35" height="158.68" fill="#0873b2"/>
<rect x="74.82" y="784.03" width="5.35" height="15.87" fill="#f28031"/>
<rect x="82.85" y="657.09" width="5.35" height="142.81" fill="#0873b2"/>
<rect x="88.19" y="720.56" width="5.35" height="79.34" fill="#f28031"/>
<rect x="96.22" y="641.22" width="5.35" height="158.68" fill="#0873b2"/>
<rect x="101.56" y="720.56" width="5.35" height="79.34" fill="#f28031"/>
<rect x="109.59" y="688.82" width="5.35" height="111.08" fill="#0873b2"/>
<rect x="122.96" y="641.22" width="5.35" height="158.68" fill="#0873b2"/>
<rect x="128.3" y="593.61" width="5.35" height="206.29" fill="#f28031"/>
<rect x="136.33" y="688.82" width="5.35" height="111.08" fill="#0873b2"/>
<rect x="149.7" y="641.22" width="5.35" height="158.68" fill="#0873b2"/>
<rect x="163.07" y="625.35" width="5.35" height="174.55" fill="#0873b2"/>
<rect x="168.41" y="768.16" width="5.35" height="31.74" fill="#f28031"/>
<rect x="176.44" y="657.09" width="5.35" height="142.81" fill="#0873b2"/>
<rect x="189.81" y="641.22" width="5.35" height="158.68" fill="#0873b2"/>
<rect x="203.18" y="641.22" width="5.35" height="158.68" fill="#0873b2"/>
<rect x="216.55" y="641.22" width="5.35" height="158.68" fill="#0873b2"/>
<rect x="221.9" y="752.3" width="5.35" height="47.6" fill="#f28031"/>
<rect x="229.92" y="657.09" width="5.35" height="142.81" fill="#0873b2"/>
<rect x="235.27" y="736.43" width="5.35" height="63.47" fill="#f28031"/>
<rect x="243.29" y="641.22" width="5.35" height="158.68" fill="#0873b2"/>
<rect x="248.64" y="768.16" width="5.35" height="31.74" fill="#f28031"/>
<rect x="256.66" y="657.09" width="5.35" height="142.81" fill="#0873b2"/>
<rect x="270.03" y="657.09" width="5.35" height="142.81" fill="#0873b2"/>
<rect x="283.4" y="657.09" width="5.35" height="142.81" fill="#0873b2"/>
<rect x="288.75" y="784.03" width="5.35" height="15.87" fill="#f28031"/>
<rect x="296.77" y="625.35" width="5.35" height="174.55" fill="#0873b2"/>
<path d="M48.08 799.9v2.85M61.45 799.9v2.85M74.82 799.9v2.85M88.19 799.9v2.85M101.56 799.9v2.85M114.93 799.9v2.85M128.3 799.9v2.85M141.67 799.9v2.85M155.04 799.9v2.85M168.41 799.9v2.85M181.79 799.9v2.85M195.16 799.9v2.85M208.53 799.9v2.85M221.9 799.9v2.85M235.27 799.9v2.85M248.64 799.9v2.85M262.01 799.9v2.85M275.38 799.9v2.85M288.75 799.9v2.85M302.12 799.9v2.85M29.5 784.03h-2.85M29.5 768.16h-2.85M29.5 752.3h-2.85M29.5 736.43h-2.85M29.5 720.56h-2.85M29.5 704.69h-2.85M29.5 688.82h-2.85M29.5 672.95h-2.85M29.5 657.09h-2.85M29.5 641.22h-2.85M29.5 625.35h-2.85M29.5 609.48h-2.85M29.5 593.61h-2.85" stroke="#2a2a2a" stroke-width="0.8" fill="none"/>
<rect x="29.5" y="583.3" width="291.2" height="216.6" fill="none" stroke="#2a2a2a" stroke-width="0.8"/>
<text x="48.08" y="812.5" font-size="8.38" text-anchor="middle" textLength="4.92" lengthAdjust="spacingAndGlyphs">0</text>
<text x="61.45" y="812.5" font-size="8.38" text-anchor="middle" textLength="4.92" lengthAdjust="spacingAndGlyphs">1</text>
<text x="74.82" y="812.5" font-size="8.38" text-anchor="middle" textLength="4.92" lengthAdjust="spacingAndGlyphs">2</text>
<text x="88.19" y="812.5" font-size="8.38" text-anchor="middle" textLength="4.92" lengthAdjust="spacingAndGlyphs">3</text>
<text x="101.56" y="812.5" font-size="8.38" text-anchor="middle" textLength="4.92" lengthAdjust="spacingAndGlyphs">4</text>
<text x="114.93" y="812.5" font-size="8.38" text-anchor="middle" textLength="4.92" lengthAdjust="spacingAndGlyphs">5</text>
<text x="128.3" y="812.5" font-size="8.38" text-anchor="middle" textLength="4.92" lengthAdjust="spacingAndGlyphs">6</text>
<text x="141.67" y="812.5" font-size="8.38" text-anchor="middle" textLength="4.92" lengthAdjust="spacingAndGlyphs">7</text>
<text x="155.04" y="812.5" font-size="8.38" text-anchor="middle" textLength="4.92" lengthAdjust="spacingAndGlyphs">8</text>
<text x="168.41" y="812.5" font-size="8.38" text-anchor="middle" textLength="4.92" lengthAdjust="spacingAndGlyphs">9</text>
<text x="181.79" y="812.5" font-size="8.38" text-anchor="middle" textLength="9.84" lengthAdjust="spacingAndGlyphs">10</text>
<text x="195.16" y="812.5" font-size="8.38" text-anchor="middle" textLength="9.84" lengthAdjust="spacingAndGlyphs">11</text>
<text x="208.53" y="812.5" font-size="8.38" text-anchor="middle" textLength="9.84" lengthAdjust="spacingAndGlyphs">12</text>
<text x="221.9" y="812.5" font-size="8.38" text-anchor="middle" textLength="9.84" lengthAdjust="spacingAndGlyphs">13</text>
<text x="235.27" y="812.5" font-size="8.38" text-anchor="middle" textLength="9.84" lengthAdjust="spacingAndGlyphs">14</text>
<text x="248.64" y="812.5" font-size="8.38" text-anchor="middle" textLength="9.84" lengthAdjust="spacingAndGlyphs">15</text>
<text x="262.01" y="812.5" font-size="8.38" text-anchor="middle" textLength="9.84" lengthAdjust="spacingAndGlyphs">16</text>
<text x="275.38" y="812.5" font-size="8.38" text-anchor="middle" textLength="9.84" lengthAdjust="spacingAndGlyphs">17</text>
<text x="288.75" y="812.5" font-size="8.38" text-anchor="middle" textLength="9.84" lengthAdjust="spacingAndGlyphs">18</text>
<text x="302.12" y="812.5" font-size="8.38" text-anchor="middle" textLength="9.84" lengthAdjust="spacingAndGlyphs">19</text>
<text x="23.4" y="787.12" font-size="8.38" text-anchor="end" textLength="4.92" lengthAdjust="spacingAndGlyphs">1</text>
<text x="23.4" y="771.25" font-size="8.38" text-anchor="end" textLength="4.92" lengthAdjust="spacingAndGlyphs">2</text>
<text x="23.4" y="755.39" font-size="8.38" text-anchor="end" textLength="4.92" lengthAdjust="spacingAndGlyphs">3</text>
<text x="23.4" y="739.52" font-size="8.38" text-anchor="end" textLength="4.92" lengthAdjust="spacingAndGlyphs">4</text>
<text x="23.4" y="723.65" font-size="8.38" text-anchor="end" textLength="4.92" lengthAdjust="spacingAndGlyphs">5</text>
<text x="23.4" y="707.78" font-size="8.38" text-anchor="end" textLength="4.92" lengthAdjust="spacingAndGlyphs">6</text>
<text x="23.4" y="691.91" font-size="8.38" text-anchor="end" textLength="4.92" lengthAdjust="spacingAndGlyphs">7</text>
<text x="23.4" y="676.04" font-size="8.38" text-anchor="end" textLength="4.92" lengthAdjust="spacingAndGlyphs">8</text>
<text x="23.4" y="660.18" font-size="8.38" text-anchor="end" textLength="4.92" lengthAdjust="spacingAndGlyphs">9</text>
<text x="23.4" y="644.31" font-size="8.38" text-anchor="end" textLength="9.84" lengthAdjust="spacingAndGlyphs">10</text>
<text x="23.4" y="628.44" font-size="8.38" text-anchor="end" textLength="9.84" lengthAdjust="spacingAndGlyphs">11</text>
<text x="23.4" y="612.57" font-size="8.38" text-anchor="end" textLength="9.84" lengthAdjust="spacingAndGlyphs">12</text>
<text x="23.4" y="596.7" font-size="8.38" text-anchor="end" textLength="9.84" lengthAdjust="spacingAndGlyphs">13</text>
<text x="175.1" y="577.7" font-size="10.06" text-anchor="middle" textLength="56.09" lengthAdjust="spacingAndGlyphs">Right Ankle</text>
<text x="175.1" y="823.4" font-size="8.38" text-anchor="middle" textLength="60.24" lengthAdjust="spacingAndGlyphs">Subject Videos</text>
<text x="8.2" y="691.6" font-size="8.38" text-anchor="middle" textLength="72.95" lengthAdjust="spacingAndGlyphs" transform="rotate(-90 8.2 691.6)">Angles in degrees</text>
<rect x="249.03" y="587.37" width="67.6" height="27.2" rx="1.6" fill="#fff" stroke="#ccc" stroke-width="0.8"/>
<rect x="252.03" y="590.57" width="16.28" height="5.8" fill="#0873b2"/>
<rect x="252.03" y="602.97" width="16.28" height="5.7" fill="#f28031"/>
<text x="275.13" y="596.47" font-size="8.38" text-anchor="start" textLength="37.57" lengthAdjust="spacingAndGlyphs">Predicted</text>
<text x="275.13" y="609.17" font-size="8.38" text-anchor="start" textLength="25" lengthAdjust="spacingAndGlyphs">Actual</text>
<rect x="397.64" y="623.28" width="5.35" height="176.82" fill="#0873b2"/>
<rect x="402.98" y="785.37" width="5.35" height="14.73" fill="#f28031"/>
<rect x="411.01" y="623.28" width="5.35" height="176.82" fill="#0873b2"/>
<rect x="416.35" y="755.9" width="5.35" height="44.2" fill="#f28031"/>
<rect x="424.38" y="652.75" width="5.35" height="147.35" fill="#0873b2"/>
<rect x="429.72" y="652.75" width="5.35" height="147.35" fill="#f28031"/>
<rect x="437.75" y="652.75" width="5.35" height="147.35" fill="#0873b2"/>
<rect x="443.09" y="696.96" width="5.35" height="103.14" fill="#f28031"/>
<rect x="451.12" y="638.02" width="5.35" height="162.08" fill="#0873b2"/>
<rect x="456.46" y="785.37" width="5.35" height="14.73" fill="#f28031"/>
<rect x="464.49" y="593.81" width="5.35" height="206.29" fill="#0873b2"/>
<rect x="477.86" y="638.02" width="5.35" height="162.08" fill="#0873b2"/>
<rect x="483.2" y="652.75" width="5.35" height="147.35" fill="#f28031"/>
<rect x="491.23" y="638.02" width="5.35" height="162.08" fill="#0873b2"/>
<rect x="504.6" y="638.02" width="5.35" height="162.08" fill="#0873b2"/>
<rect x="517.97" y="652.75" width="5.35" height="147.35" fill="#0873b2"/>
<rect x="531.34" y="638.02" width="5.35" height="162.08" fill="#0873b2"/>
<rect x="536.69" y="785.37" width="5.35" height="14.73" fill="#f28031"/>
<rect x="544.71" y="652.75" width="5.35" height="147.35" fill="#0873b2"/>
<rect x="550.06" y="785.37" width="5.35" height="14.73" fill="#f28031"/>
<rect x="558.08" y="638.02" width="5.35" height="162.08" fill="#0873b2"/>
<rect x="571.45" y="667.49" width="5.35" height="132.61" fill="#0873b2"/>
<rect x="576.8" y="785.37" width="5.35" height="14.73" fill="#f28031"/>
<rect x="584.82" y="638.02" width="5.35" height="162.08" fill="#0873b2"/>
<rect x="598.19" y="652.75" width="5.35" height="147.35" fill="#0873b2"/>
<rect x="603.54" y="785.37" width="5.35" height="14.73" fill="#f28031"/>
<rect x="611.56" y="623.28" width="5.35" height="176.82" fill="#0873b2"/>
<rect x="624.93" y="652.75" width="5.35" height="147.35" fill="#0873b2"/>
<rect x="630.28" y="785.37" width="5.35" height="14.73" fill="#f28031"/>
<rect x="638.3" y="638.02" width="5.35" height="162.08" fill="#0873b2"/>
<rect x="643.65" y="785.37" width="5.35" height="14.73" fill="#f28031"/>
<rect x="651.67" y="608.55" width="5.35" height="191.55" fill="#0873b2"/>
<path d="M402.98 800.1v2.85M416.35 800.1v2.85M429.72 800.1v2.85M443.09 800.1v2.85M456.46 800.1v2.85M469.83 800.1v2.85M483.2 800.1v2.85M496.57 800.1v2.85M509.94 800.1v2.85M523.31 800.1v2.85M536.69 800.1v2.85M550.06 800.1v2.85M563.43 800.1v2.85M576.8 800.1v2.85M590.17 800.1v2.85M603.54 800.1v2.85M616.91 800.1v2.85M630.28 800.1v2.85M643.65 800.1v2.85M657.02 800.1v2.85M384.4 785.37h-2.85M384.4 770.63h-2.85M384.4 755.9h-2.85M384.4 741.16h-2.85M384.4 726.43h-2.85M384.4 711.69h-2.85M384.4 696.96h-2.85M384.4 682.22h-2.85M384.4 667.49h-2.85M384.4 652.75h-2.85M384.4 638.02h-2.85M384.4 623.28h-2.85M384.4 608.55h-2.85M384.4 593.81h-2.85" stroke="#2a2a2a" stroke-width="0.8" fill="none"/>
<rect x="384.4" y="583.5" width="291.2" height="216.6" fill="none" stroke="#2a2a2a" stroke-width="0.8"/>
<text x="402.98" y="812.7" font-size="8.38" text-anchor="middle" textLength="4.92" lengthAdjust="spacingAndGlyphs">0</text>
<text x="416.35" y="812.7" font-size="8.38" text-anchor="middle" textLength="4.92" lengthAdjust="spacingAndGlyphs">1</text>
<text x="429.72" y="812.7" font-size="8.38" text-anchor="middle" textLength="4.92" lengthAdjust="spacingAndGlyphs">2</text>
<text x="443.09" y="812.7" font-size="8.38" text-anchor="middle" textLength="4.92" lengthAdjust="spacingAndGlyphs">3</text>
<text x="456.46" y="812.7" font-size="8.38" text-anchor="middle" textLength="4.92" lengthAdjust="spacingAndGlyphs">4</text>
<text x="469.83" y="812.7" font-size="8.38" text-anchor="middle" textLength="4.92" lengthAdjust="spacingAndGlyphs">5</text>
<text x="483.2" y="812.7" font-size="8.38" text-anchor="middle" textLength="4.92" lengthAdjust="spacingAndGlyphs">6</text>
<text x="496.57" y="812.7" font-size="8.38" text-anchor="middle" textLength="4.92" lengthAdjust="spacingAndGlyphs">7</text>
<text x="509.94" y="812.7" font-size="8.38" text-anchor="middle" textLength="4.92" lengthAdjust="spacingAndGlyphs">8</text>
<text x="523.31" y="812.7" font-size="8.38" text-anchor="middle" textLength="4.92" lengthAdjust="spacingAndGlyphs">9</text>
<text x="536.69" y="812.7" font-size="8.38" text-anchor="middle" textLength="9.84" lengthAdjust="spacingAndGlyphs">10</text>
<text x="550.06" y="812.7" font-size="8.38" text-anchor="middle" textLength="9.84" lengthAdjust="spacingAndGlyphs">11</text>
<text x="563.43" y="812.7" font-size="8.38" text-anchor="middle" textLength="9.84" lengthAdjust="spacingAndGlyphs">12</text>
<text x="576.8" y="812.7" font-size="8.38" text-anchor="middle" textLength="9.84" lengthAdjust="spacingAndGlyphs">13</text>
<text x="590.17" y="812.7" font-size="8.38" text-anchor="middle" textLength="9.84" lengthAdjust="spacingAndGlyphs">14</text>
<text x="603.54" y="812.7" font-size="8.38" text-anchor="middle" textLength="9.84" lengthAdjust="spacingAndGlyphs">15</text>
<text x="616.91" y="812.7" font-size="8.38" text-anchor="middle" textLength="9.84" lengthAdjust="spacingAndGlyphs">16</text>
<text x="630.28" y="812.7" font-size="8.38" text-anchor="middle" textLength="9.84" lengthAdjust="spacingAndGlyphs">17</text>
<text x="643.65" y="812.7" font-size="8.38" text-anchor="middle" textLength="9.84" lengthAdjust="spacingAndGlyphs">18</text>
<text x="657.02" y="812.7" font-size="8.38" text-anchor="middle" textLength="9.84" lengthAdjust="spacingAndGlyphs">19</text>
<text x="378.3" y="788.46" font-size="8.38" text-anchor="end" textLength="4.92" lengthAdjust="spacingAndGlyphs">1</text>
<text x="378.3" y="773.72" font-size="8.38" text-anchor="end" textLength="4.92" lengthAdjust="spacingAndGlyphs">2</text>
<text x="378.3" y="758.99" font-size="8.38" text-anchor="end" textLength="4.92" lengthAdjust="spacingAndGlyphs">3</text>
<text x="378.3" y="744.25" font-size="8.38" text-anchor="end" textLength="4.92" lengthAdjust="spacingAndGlyphs">4</text>
<text x="378.3" y="729.52" font-size="8.38" text-anchor="end" textLength="4.92" lengthAdjust="spacingAndGlyphs">5</text>
<text x="378.3" y="714.78" font-size="8.38" text-anchor="end" textLength="4.92" lengthAdjust="spacingAndGlyphs">6</text>
<text x="378.3" y="700.05" font-size="8.38" text-anchor="end" textLength="4.92" lengthAdjust="spacingAndGlyphs">7</text>
<text x="378.3" y="685.31" font-size="8.38" text-anchor="end" textLength="4.92" lengthAdjust="spacingAndGlyphs">8</text>
<text x="378.3" y="670.58" font-size="8.38" text-anchor="end" textLength="4.92" lengthAdjust="spacingAndGlyphs">9</text>
<text x="378.3" y="655.84" font-size="8.38" text-anchor="end" textLength="9.84" lengthAdjust="spacingAndGlyphs">10</text>
<text x="378.3" y="641.11" font-size="8.38" text-anchor="end" textLength="9.84" lengthAdjust="spacingAndGlyphs">11</text>
<text x="378.3" y="626.37" font-size="8.38" text-anchor="end" textLength="9.84" lengthAdjust="spacingAndGlyphs">12</text>
<text x="378.3" y="611.64" font-size="8.38" text-anchor="end" textLength="9.84" lengthAdjust="spacingAndGlyphs">13</text>
<text x="378.3" y="596.9" font-size="8.38" text-anchor="end" textLength="9.84" lengthAdjust="spacingAndGlyphs">14</text>
<text x="530" y="577.9" font-size="10.06" text-anchor="middle" textLength="49.09" lengthAdjust="spacingAndGlyphs">Left Ankle</text>
<text x="530" y="823.6" font-size="8.38" text-anchor="middle" textLength="60.24" lengthAdjust="spacingAndGlyphs">Subject Videos</text>
<text x="363.1" y="691.8" font-size="8.38" text-anchor="middle" textLength="72.95" lengthAdjust="spacingAndGlyphs" transform="rotate(-90 363.1 691.8)">Angles in degrees</text>
<rect x="388.47" y="587.57" width="67.6" height="27.2" rx="1.6" fill="#fff" stroke="#ccc" stroke-width="0.8"/>
<rect x="391.47" y="590.77" width="16.28" height="5.8" fill="#0873b2"/>
<rect x="391.47" y="603.17" width="16.28" height="5.7" fill="#f28031"/>
<text x="414.57" y="596.67" font-size="8.38" text-anchor="start" textLength="37.57" lengthAdjust="spacingAndGlyphs">Predicted</text>
<text x="414.57" y="609.37" font-size="8.38" text-anchor="start" textLength="25" lengthAdjust="spacingAndGlyphs">Actual</text>
</g></svg></body></html>
